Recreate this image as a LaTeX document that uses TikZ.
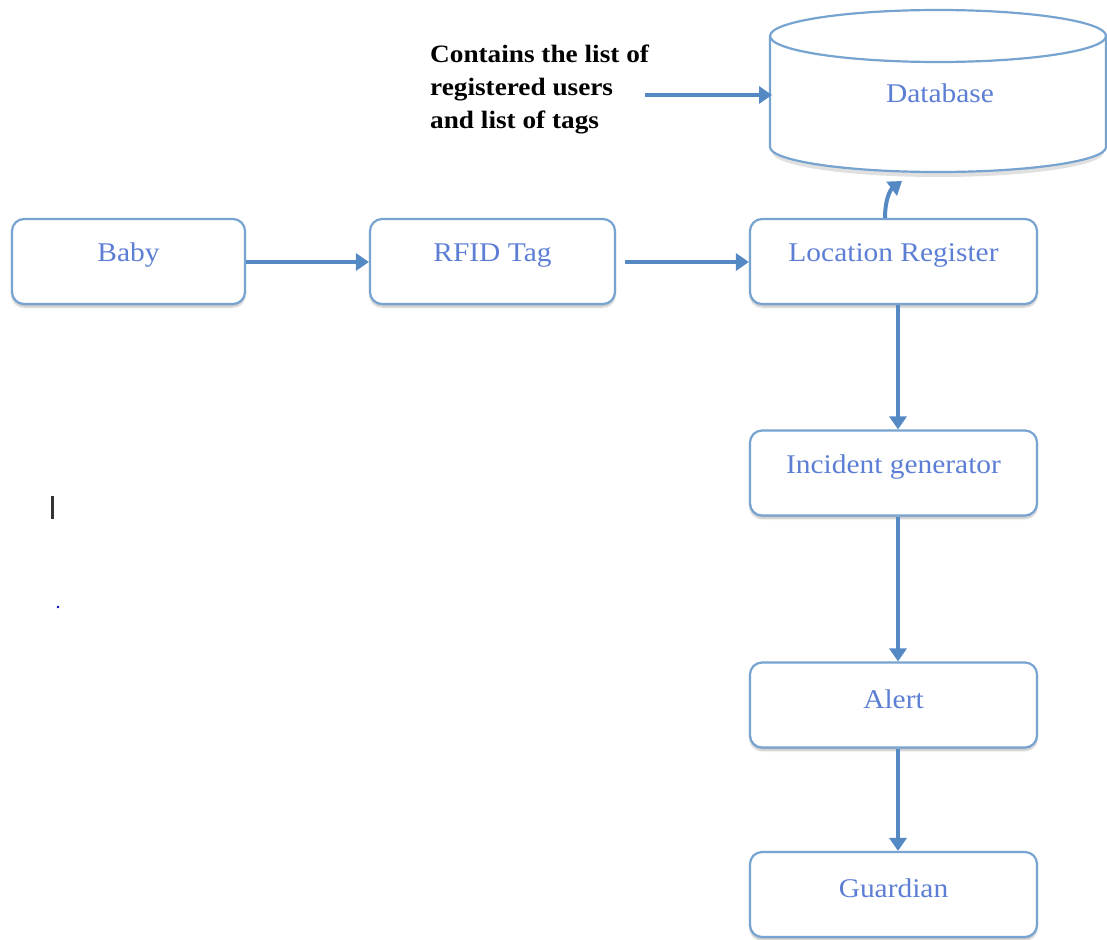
\documentclass[tikz,border=0pt]{standalone}
\usepackage{fontspec}
\setmainfont{Liberation Serif}[FakeStretch=1.09]
\usetikzlibrary{arrows.meta,shadows.blur}
\definecolor{edgeblue}{RGB}{118,163,208}
\definecolor{arrowblue}{RGB}{84,137,195}
\definecolor{textblue}{RGB}{92,126,212}
\begin{document}
\begin{tikzpicture}[x=1pt,y=-1pt,
  box/.style={draw=edgeblue,line width=2.2pt,rounded corners=12pt,fill=white,
    minimum width=#1,minimum height=85pt,inner sep=0pt,
    blur shadow={shadow xshift=0pt,shadow yshift=-3pt,shadow blur steps=6,shadow opacity=25}},
  box/.default=287pt,
  lbl/.style={text=textblue,font=\fontsize{27}{32}\selectfont,inner sep=0pt},
  note/.style={text=black,font=\bfseries\fontsize{25}{33}\selectfont,align=left,inner sep=0pt},
  flow/.style={draw=arrowblue,line width=4pt,-{Triangle[length=13pt,width=17pt]}}]
\useasboundingbox (0,0) rectangle (1107,939);

% database cylinder
\begin{scope}
\clip (0,0) rectangle (1107,939);
\fill[black,opacity=0.12] (772,152) arc[start angle=180,end angle=0,x radius=166,y radius=25]
  -- (1106,145) -- (772,145) -- cycle;
\fill[white] (770,36) -- (770,147) arc[start angle=180,end angle=0,x radius=168,y radius=25]
  -- (1106,36) -- cycle;
\draw[edgeblue,line width=2.2pt] (770,36) -- (770,147)
  arc[start angle=180,end angle=0,x radius=168,y radius=25] -- (1106,36);
\draw[edgeblue,line width=2.2pt] (938,36) ellipse[x radius=168,y radius=26];
\end{scope}
\coordinate (dbin) at (772,95);
\coordinate (dbbot) at (902,181);
\node[lbl] (dbtxt) at (940,93) {Database};

% annotation
\node[note,anchor=north west] (note) at (430,45) {Contains the list of\\registered users\\and list of tags};
\coordinate (noteout) at (645,95);

% process boxes
\node[box=233pt] (baby) at (128.5,261.5) {};
\node[box=245pt] (rfid) at (492.5,261.5) {};
\node[box] (loc) at (893.5,261.5) {};
\node[box] (inc) at (893.5,473) {};
\node[box] (alert) at (893.5,705) {};
\node[box] (guard) at (893.5,894.5) {};

\node[lbl] (babyt) at ([yshift=6pt]baby.center) {Baby};
\node[lbl] (rfidt) at ([yshift=6pt]rfid.center) {RFID Tag};
\node[lbl] (loct) at ([yshift=6pt]loc.center) {Location Register};
\node[lbl] (inct) at ([yshift=6pt]inc.center) {Incident generator};
\node[lbl] (alertt) at ([yshift=6pt]alert.center) {Alert};
\node[lbl] (guardt) at ([yshift=6pt]guard.center) {Guardian};

% connectors
\draw[flow] (noteout) -- (dbin);
\draw[flow] (baby.east |- 0,262) -- (rfid.west |- 0,262);
\coordinate (rfidout) at (625,262);
\draw[flow] (rfidout) -- (loc.west |- 0,262);
\draw[flow] (loc.south -| 898,0) -- (inc.north -| 898,0);
\draw[flow] (inc.south -| 898,0) -- (alert.north -| 898,0);
\draw[flow] (alert.south -| 898,0) -- (guard.north -| 898,0);
\draw[flow] (loc.north -| 885,0) .. controls (885,200) and (890,190) .. (dbbot);

% stray marks
\draw[black!80,line width=3pt] (52,496) -- (52,519);
\fill[blue!70!black] (58,607) circle (1.4pt);
\end{tikzpicture}
\end{document}
